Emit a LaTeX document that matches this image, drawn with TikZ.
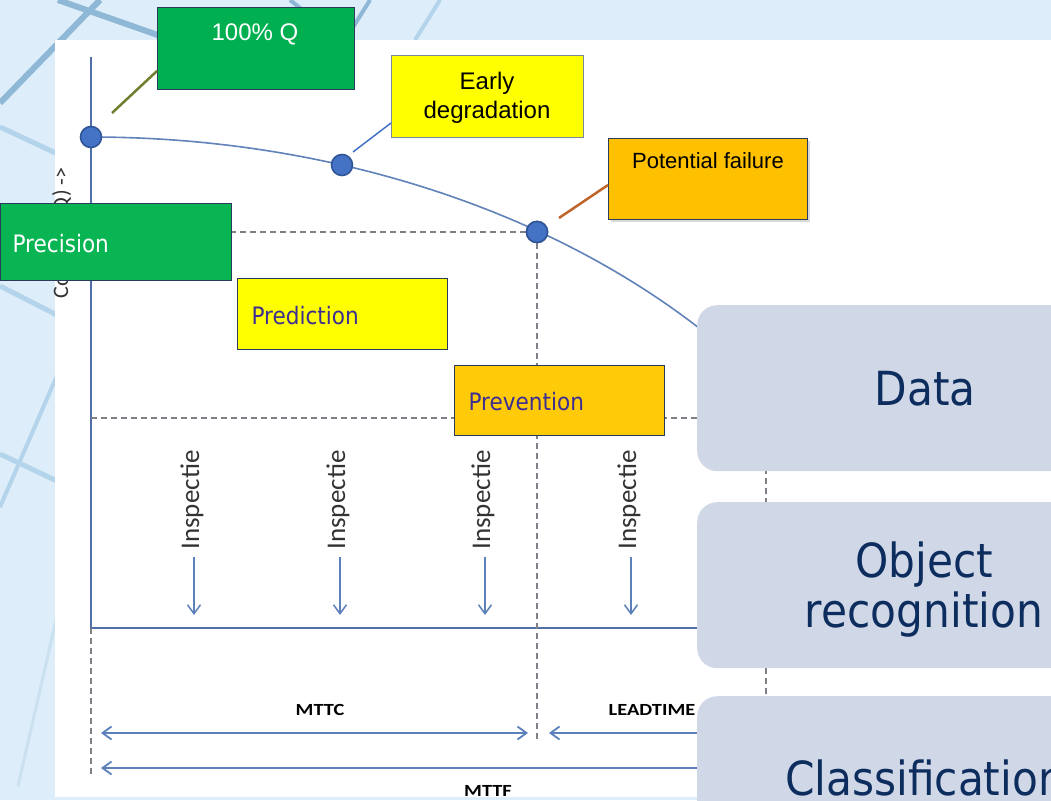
\documentclass[tikz,border=0pt]{standalone}
\usepackage{fontspec}
\setmainfont{Liberation Sans}
\newfontfamily\tah[FakeStretch=0.9]{DejaVu Sans}
\newfontfamily\carl{Carlito}
\newfontfamily\carlw[FakeStretch=1.2]{Carlito}
\usetikzlibrary{arrows.meta}
\definecolor{bgblue}{HTML}{DDEDF9}
\definecolor{bgline}{HTML}{8FB8D6}
\definecolor{bglight}{HTML}{B3D4EA}
\definecolor{axis}{HTML}{4F6FA6}
\definecolor{curve}{HTML}{6282BA}
\definecolor{dashgray}{HTML}{7F8087}
\definecolor{arr}{HTML}{5B80BA}
\definecolor{qgreen}{HTML}{00B050}
\definecolor{pgreen}{HTML}{08B552}
\definecolor{pyellow}{HTML}{FFFF00}
\definecolor{porange}{HTML}{FFC000}
\definecolor{prevor}{HTML}{FFCA08}
\definecolor{boxedge}{HTML}{2A3B5C}
\definecolor{edgegray}{HTML}{7A8A9E}
\definecolor{purpletxt}{HTML}{3D2F92}
\definecolor{navy}{HTML}{0C2D5E}
\definecolor{rboxfill}{HTML}{D0D8E8}
\definecolor{dotfill}{HTML}{4472C4}
\definecolor{dotedge}{HTML}{2F5597}
\definecolor{olive}{HTML}{6E7F2E}
\definecolor{brownln}{HTML}{C0652A}
\definecolor{inspgray}{HTML}{333333}
\tikzset{
  cbox/.style={draw=boxedge, line width=0.9pt, inner sep=0pt, anchor=north west},
  rbox/.style={fill=rboxfill, rounded corners=20pt, inner sep=0pt, anchor=north west},
  dashln/.style={dashgray, line width=1.3pt, dash pattern=on 6pt off 4pt},
  dot/.style={circle, fill=dotfill, draw=dotedge, line width=1.6pt, minimum size=21pt, inner sep=0pt},
  arrln/.style={arr, line width=1.8pt},
  insp/.style={rotate=90, anchor=base, inspgray, font=\carl\fontsize{27}{30}\selectfont},
  tlab/.style={anchor=base, black, font=\carlw\bfseries\fontsize{17}{19}\selectfont},
  tahtxt/.style={anchor=base west, font=\tah\fontsize{24}{28}\selectfont},
  bigtxt/.style={anchor=base, navy, font=\tah\fontsize{47}{52}\selectfont},
  ariatxt/.style={anchor=base, font=\fontsize{24}{28}\selectfont}
}
\begin{document}
\begin{tikzpicture}[x=1pt,y=-1pt]
\useasboundingbox (0,0) rectangle (1051,800);
\clip (0,0) rectangle (1051,800);
% background
\fill[bgblue] (0,0) rectangle (1051,800);
\draw[bgline, line width=6pt] (0,103) -- (100,0);
\draw[bgline, line width=6pt] (58,0) -- (300,85);
\draw[bglight, line width=5pt] (0,127) -- (60,155);
\draw[bgline, line width=4pt] (290,0) -- (340,40);
\draw[bgline, line width=4pt] (370,0) -- (345,40);
\draw[bglight, line width=4pt] (440,0) -- (415,40);
\draw[bglight, line width=5pt] (0,286) -- (59,316);
\draw[bglight, line width=4pt] (59,371) -- (0,507);
\draw[bglight, line width=5pt] (0,454) -- (59,482);
\draw[bglight!70, line width=3pt] (59,607) -- (18,786);
% white panel
\fill[white] (55,40) rectangle (1051,797);
% y-axis label (mostly hidden)
\node[rotate=90, anchor=base, inspgray, font=\carl\fontsize{22}{24}\selectfont] (ylab) at (68,233) {Conditie (Q) ->};
% axes
\coordinate (ytop) at (91,57);
\coordinate (orig) at (91,628);
\coordinate (xend) at (760,628);
\coordinate (ybot) at (91,776);
\draw[axis, line width=1.8pt] (ytop) -- (orig) -- (xend);
\draw[dashln] (orig) -- (ybot);
% dashed guides
\coordinate (h1a) at (91,232);
\coordinate (h2a) at (91,418);
\coordinate (h2b) at (780,418);
\coordinate (v1b) at (537,740);
\coordinate (v2a) at (766,418);
\coordinate (v2b) at (766,780);
\draw[dashln] (h2a) -- (h2b);
\draw[dashln] (v2a) -- (v2b);
% curve
\draw[curve, line width=1.6pt] plot[domain=-90:-38, samples=80] ({91+831*cos(\x)}, {737+600*sin(\x)});
% inspection arrows
\foreach \i/\xx in {1/194, 2/340, 3/485, 4/631} {
  \node[insp] (insp\i) at (\xx+5,500) {Inspectie};
  \coordinate (ia\i) at (\xx,557);
  \coordinate (ib\i) at (\xx,615);
  \draw[arrln, line width=1.5pt, -{Straight Barb[length=9pt,width=13pt,line width=1.5pt]}] (ia\i) -- (ib\i);
}
% time labels & arrows
\node[tlab] (mttc) at (320,715) {MTTC};
\node[tlab] (lead) at (652,715) {LEADTIME};
\node[tlab] (mttf) at (488,796) {MTTF};
\coordinate (m1a) at (101,733);
\coordinate (m1b) at (528,733);
\coordinate (l1a) at (549,733);
\coordinate (l1b) at (740,733);
\coordinate (f1a) at (101,768);
\coordinate (f1b) at (740,768);
\draw[arrln, {Straight Barb[length=9pt,width=13pt,line width=1.8pt]}-{Straight Barb[length=9pt,width=13pt,line width=1.8pt]}] (m1a) -- (m1b);
\draw[arrln, {Straight Barb[length=9pt,width=13pt,line width=1.8pt]}-] (l1a) -- (l1b);
\draw[arrln, {Straight Barb[length=9pt,width=13pt,line width=1.8pt]}-] (f1a) -- (f1b);
% bottom strip
\fill[bgblue] (0,797) rectangle (1051,800);
% dots
\node[dot] (d1) at (91,137) {};
\node[dot] (d2) at (342,165) {};
\node[dot] (d3) at (537,232) {};
\draw[dashln] (d3) -- (h1a);
\draw[dashln] (d3) -- (v1b);
\node[dot] (d3b) at (537,232) {};
% callout boxes
\node[cbox, fill=qgreen, minimum width=197, minimum height=82] (qbox) at (157,7) {};
\node[ariatxt, white] (qtxt) at (255,41) {100\% Q};
\node[cbox, draw=edgegray, fill=pyellow, minimum width=192, minimum height=82] (ebox) at (391,55) {};
\node[ariatxt, black] (etxt1) at (487,89) {Early};
\node[ariatxt, black] (etxt2) at (487,118) {degradation};
\fill[black!15] (611,141) rectangle (810,222);
\node[cbox, fill=porange, minimum width=199, minimum height=81] (pfbox) at (608,138) {};
\node[anchor=base, black, font=\fontsize{22}{26}\selectfont] (pftxt) at (708,168) {Potential failure};
\coordinate (qa) at (112,113);
\coordinate (ea) at (353,152);
\coordinate (pa) at (559,218);
\draw[olive, line width=2.5pt] (qa) -- (qbox.west |- 0,71);
\draw[dotfill, line width=1.5pt] (ea) -- (ebox.west |- 0,123);
\draw[brownln, line width=2.5pt] (pa) -- (pfbox.west |- 0,185);
\node[cbox, fill=pgreen, minimum width=231, minimum height=77] (precb) at (0,203) {};
\node[tahtxt, white] (prect) at (9,252) {Precision};
\node[cbox, fill=pyellow, minimum width=210, minimum height=71] (predb) at (237,278) {};
\node[tahtxt, purpletxt] (predt) at (248,324) {Prediction};
\node[cbox, fill=prevor, minimum width=210, minimum height=70] (prevb) at (454,365) {};
\node[tahtxt, purpletxt] (prevt) at (465,410) {Prevention};
% right boxes
\node[rbox, minimum width=480, minimum height=166] (datab) at (697,305) {};
\node[bigtxt] (datat) at (925,405) {Data};
\node[rbox, minimum width=480, minimum height=166] (objb) at (697,502) {};
\node[bigtxt] (objt1) at (924,577) {Object};
\node[bigtxt] (objt2) at (924,627) {recognition};
\node[rbox, minimum width=480, minimum height=200] (clsb) at (697,696) {};
\node[bigtxt] (clst) at (925,795) {Classification};
\end{tikzpicture}
\end{document}
